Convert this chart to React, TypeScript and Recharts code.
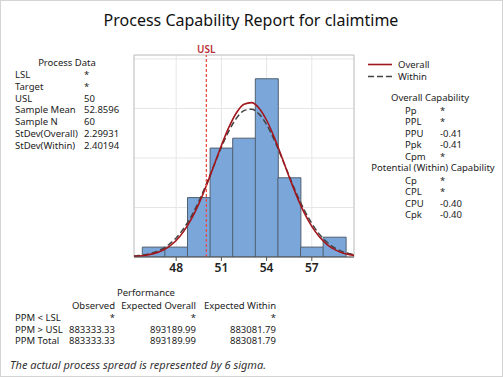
import { ComposedChart, Bar, Line, XAxis, YAxis, CartesianGrid, ReferenceLine, ReferenceArea } from 'recharts';

const binMids = [46.5, 48, 49.5, 51, 52.5, 54, 55.5, 57, 58.5];
const binCounts = [1, 1, 6, 11, 12, 18, 8, 1, 2];

// fitted curves
const curveX = [45.2, 45.5, 46, 46.5, 47, 47.5, 48, 48.5, 49, 49.5, 50, 50.5, 51, 51.5, 52, 52.5, 53, 53.5, 54, 54.5, 55, 55.5, 56, 56.5, 57, 57.5, 58, 58.5, 59, 59.5, 59.8];
const overallY = [0.06, 0.09, 0.18, 0.34, 0.61, 1.03, 1.67, 2.59, 3.82, 5.37, 7.2, 9.22, 11.26, 13.11, 14.57, 15.43, 15.59, 15.03, 13.81, 12.11, 10.13, 8.08, 6.15, 4.46, 3.09, 2.04, 1.28, 0.77, 0.44, 0.24, 0.16];
const withinY = [0.09, 0.14, 0.25, 0.45, 0.76, 1.24, 1.93, 2.88, 4.11, 5.62, 7.36, 9.23, 11.08, 12.74, 14.02, 14.78, 14.92, 14.43, 13.36, 11.84, 10.05, 8.17, 6.36, 4.74, 3.39, 2.31, 1.51, 0.95, 0.57, 0.33, 0.23];

const xTicks = [48, 51, 54, 57];
const yTicks = [0, 5, 10, 15, 20];
const usl = 50;

const processLabels = ['LSL', 'Target', 'USL', 'Sample Mean', 'Sample N', 'StDev(Overall)', 'StDev(Within)'];
const processValues = ['*', '*', '50', '52.8596', '60', '2.29931', '2.40194'];
const overallCapLabels = ['Pp', 'PPL', 'PPU', 'Ppk', 'Cpm'];
const overallCapValues = ['*', '*', '-0.41', '-0.41', '*'];
const withinCapLabels = ['Cp', 'CPL', 'CPU', 'Cpk'];
const withinCapValues = ['*', '*', '-0.40', '-0.40'];
const perfHeaders = ['Observed', 'Expected Overall', 'Expected Within'];
const perfRows = ['PPM < LSL', 'PPM > USL', 'PPM Total'];
const observed = ['*', '883333.33', '883333.33'];
const expectedOverall = ['*', '893189.99', '893189.99'];
const expectedWithin = ['*', '883081.79', '883081.79'];

const bins = binMids.map((mid, i) => ({ mid, count: binCounts[i] }));
const curve = curveX.map((x, i) => ({ x, overall: overallY[i], within: withinY[i] }));

const font = '"Noto Sans", "Open Sans", sans-serif';
const fs = 9.5;
const perfCols = [115, 196, 276];

const App = () => (
    <div style={{ position: 'absolute', left: 0, top: 0, width: 503, height: 377, background: '#fff', border: '1px solid #d4d4d4', boxSizing: 'border-box', fontFamily: font }}>
        <div style={{ position: 'absolute', left: -1, top: -1 }}>
            <ComposedChart width={503} height={377} data={bins} margin={{ top: 55, right: 149, bottom: 90, left: 134 }} barCategoryGap={0} barGap={0}>
                <XAxis xAxisId="x" dataKey="x" type="number" domain={[45.2, 59.8]} allowDataOverflow ticks={xTicks} height={30} tickSize={4}
                    axisLine={{ stroke: '#555' }} tickLine={{ stroke: '#555' }}
                    tick={{ fill: '#222', fontSize: 12, fontWeight: 600, fontFamily: font }} />
                <XAxis xAxisId="bins" dataKey="mid" type="number" domain={[45.2, 59.8]} allowDataOverflow height={0} hide />
                <YAxis yAxisId="y" type="number" domain={[0, 20.4]} ticks={yTicks} hide allowDataOverflow />
                <CartesianGrid xAxisId="x" yAxisId="y" stroke="#e6e6e6" />
                <ReferenceArea xAxisId="x" yAxisId="y" y1={0} y2={20.4} fill="none" stroke="#c4c4c4" ifOverflow="visible" />
                <Bar xAxisId="bins" yAxisId="y" dataKey="count" fill="#7aa6da" stroke="#52606e" strokeWidth={1} isAnimationActive={false} />
                <Line xAxisId="x" yAxisId="y" data={curve} dataKey="within" type="monotone" stroke="#444" strokeWidth={1.5} strokeDasharray="6 3" dot={false} isAnimationActive={false} />
                <Line xAxisId="x" yAxisId="y" data={curve} dataKey="overall" type="monotone" stroke="#a3161c" strokeWidth={1.6} dot={false} isAnimationActive={false} />
                <ReferenceLine xAxisId="x" yAxisId="y" x={usl} stroke="#e8463f" strokeDasharray="3 2" strokeWidth={1.2}
                    label={{ value: 'USL', position: 'top', offset: 2, fill: '#b5303a', fontSize: 10, fontWeight: 600, fontFamily: font }} />
            </ComposedChart>
        </div>
        <svg width={503} height={377} style={{ position: 'absolute', left: -1, top: -1, pointerEvents: 'none' }} fontFamily={font} fontSize={fs} fill="#222">
            <text x={251} y={26} textAnchor="middle" fontSize={16} fill="#111">Process Capability Report for claimtime</text>

            <text x={67} y={66} textAnchor="middle">Process Data</text>
            {processLabels.map((l, i) => (
                <g key={l}>
                    <text x={15} y={78 + i * 11.8}>{l}</text>
                    <text x={84} y={78 + i * 11.8}>{processValues[i]}</text>
                </g>
            ))}

            <line x1={368} x2={392} y1={64.5} y2={64.5} stroke="#a3161c" strokeWidth={1.6} />
            <text x={398} y={68}>Overall</text>
            <line x1={368} x2={392} y1={76.5} y2={76.5} stroke="#444" strokeWidth={1.5} strokeDasharray="6 3" />
            <text x={398} y={80}>Within</text>

            <text x={430} y={101} textAnchor="middle">Overall Capability</text>
            {overallCapLabels.map((l, i) => (
                <g key={l}>
                    <text x={405} y={113.5 + i * 11.5}>{l}</text>
                    <text x={440} y={113.5 + i * 11.5}>{overallCapValues[i]}</text>
                </g>
            ))}
            <text x={433} y={171} textAnchor="middle">Potential (Within) Capability</text>
            {withinCapLabels.map((l, i) => (
                <g key={l}>
                    <text x={405} y={183.5 + i * 11.6}>{l}</text>
                    <text x={440} y={183.5 + i * 11.6}>{withinCapValues[i]}</text>
                </g>
            ))}

            <text x={146} y={296} textAnchor="middle">Performance</text>
            {perfHeaders.map((h, j) => (
                <text key={h} x={perfCols[j]} y={309} textAnchor="end">{h}</text>
            ))}
            {perfRows.map((r, i) => (
                <g key={r}>
                    <text x={15} y={321 + i * 11.5}>{r}</text>
                    <text x={perfCols[0]} y={321 + i * 11.5} textAnchor="end">{observed[i]}</text>
                    <text x={perfCols[1]} y={321 + i * 11.5} textAnchor="end">{expectedOverall[i]}</text>
                    <text x={perfCols[2]} y={321 + i * 11.5} textAnchor="end">{expectedWithin[i]}</text>
                </g>
            ))}

            <text x={10} y={369} fontSize={11} fontStyle="italic" fill="#333">The actual process spread is represented by 6 sigma.</text>
        </svg>
    </div>
);

export default App;
